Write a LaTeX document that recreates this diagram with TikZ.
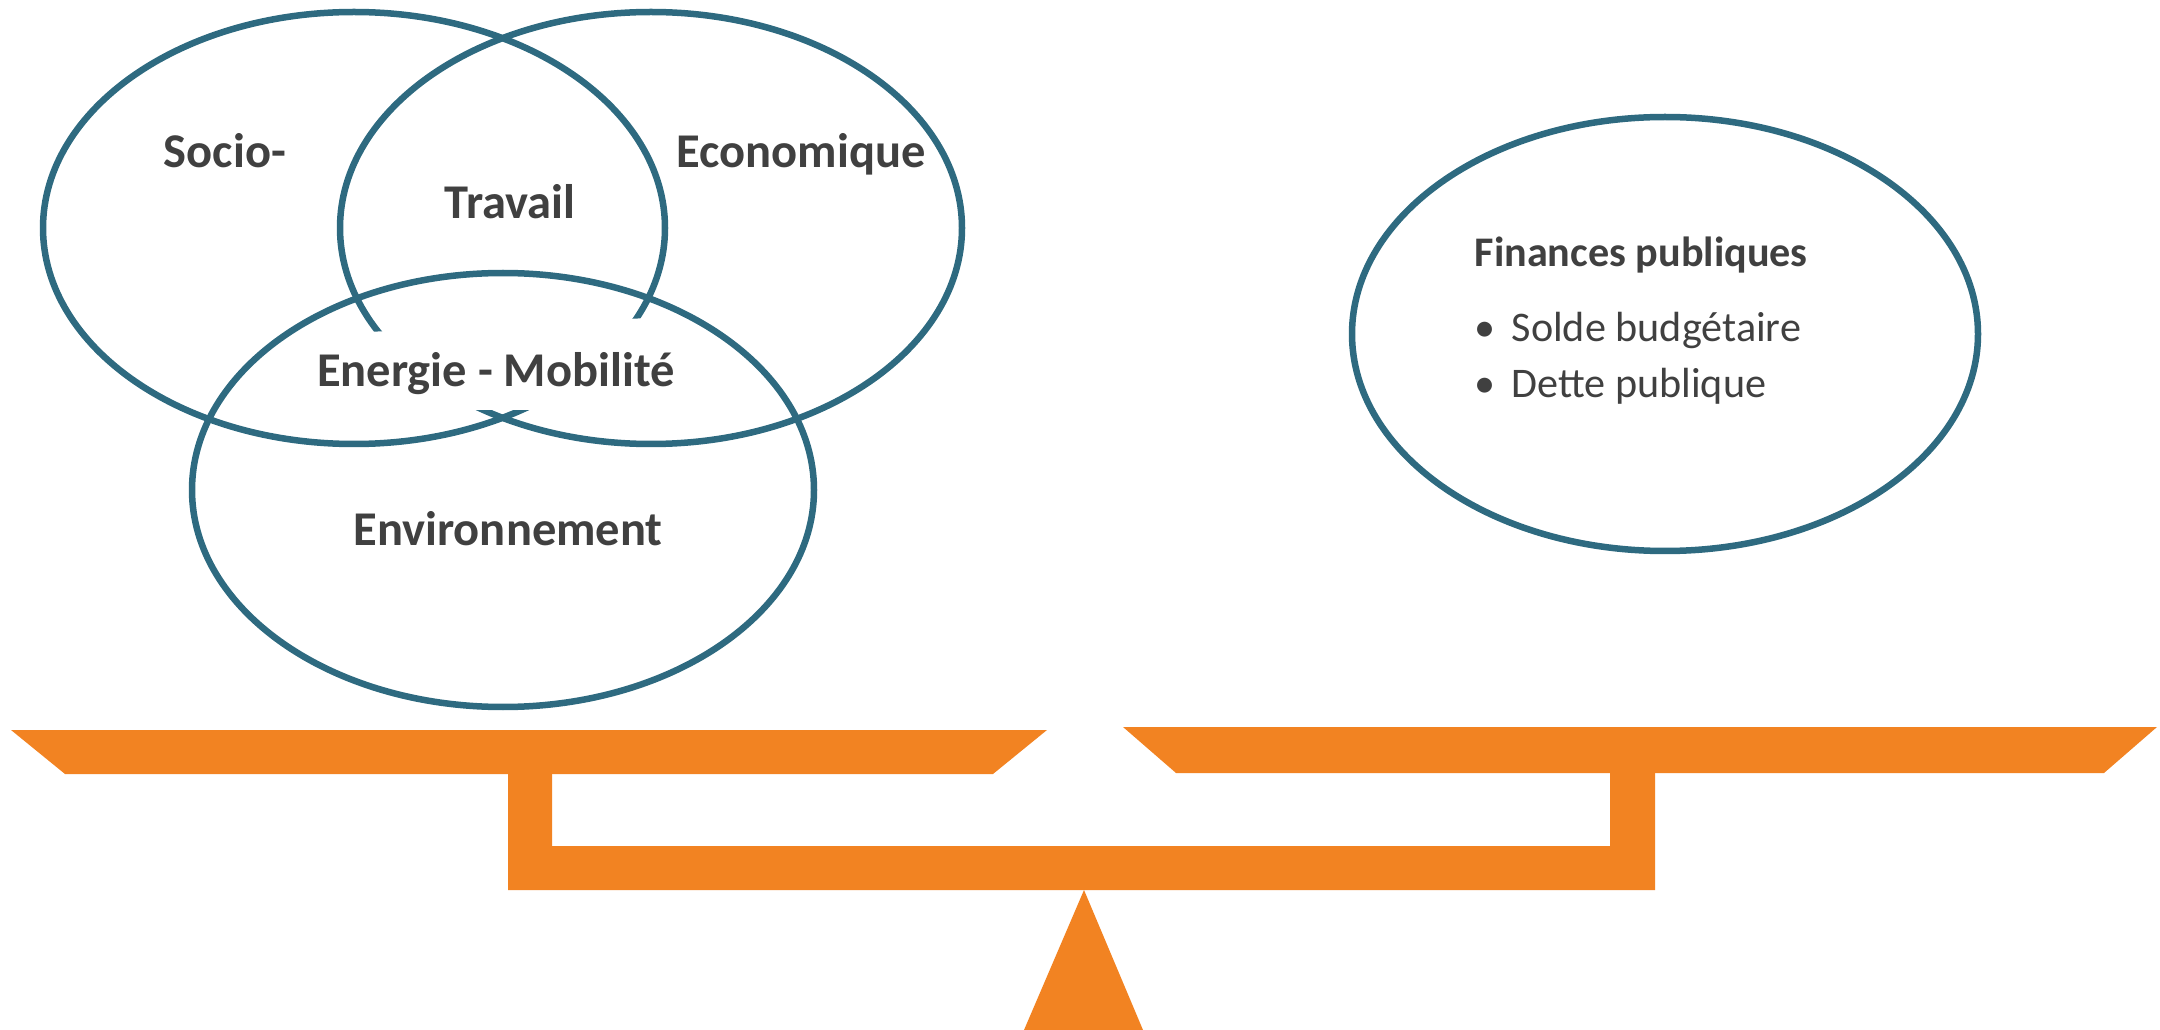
\documentclass[tikz,border=0pt]{standalone}
\usepackage{fontspec}
\setmainfont{Carlito}
\definecolor{teal}{HTML}{2E6A80}
\definecolor{scaleorange}{HTML}{F28322}
\definecolor{txt}{HTML}{404040}
\tikzset{
  venn/.style={draw=teal, line width=1.85pt},
  lbl/.style={text=txt, font=\fontsize{13.8}{16}\selectfont\bfseries, inner sep=0pt, anchor=base},
  fin/.style={text=txt, font=\fontsize{12}{14}\selectfont, inner sep=0pt, anchor=base west},
  part/.style={fill=scaleorange, draw=none}
}
\begin{document}
\begin{tikzpicture}[x=0.1mm, y=-0.1mm]
\useasboundingbox (0,0) rectangle (2160,1030);
% Venn ellipses
\draw[venn] (354,228) ellipse [x radius=31.1mm, y radius=21.6mm];
\draw[venn] (651,228) ellipse [x radius=31.1mm, y radius=21.6mm];
\fill[white] (368,332) -- (648,318) -- (648,410) -- (368,410) -- cycle;
\draw[venn] (503,490) ellipse [x radius=31.1mm, y radius=21.7mm];
% labels
\node[lbl] (socio) at (225,168) {Socio-};
\node[lbl] (eco) at (801,168) {Economique};
\node[lbl] (travail) at (510,219) {Travail};
\node[lbl] (energie) at (496,387) {Energie - Mobilité};
\node[lbl] (env) at (508,546) {Environnement};
% finances
\draw[venn] (1665,334) ellipse [x radius=31.3mm, y radius=21.7mm];
\node[fin, font=\fontsize{12}{14}\selectfont\bfseries] (fintitle) at (1474,267) {Finances publiques};
\node[fin] (b1) at (1474,342) {•};
\node[fin] (solde) at (1511,342) {Solde budgétaire};
\node[fin] (b2) at (1474,398) {•};
\node[fin] (dette) at (1511,398) {Dette publique};
% scale
\path[part] (11,730) -- (1047,730) -- (993,774) -- (65,774) -- cycle;
\path[part] (1123,727) -- (2157,727) -- (2104,773) -- (1176,773) -- cycle;
\path[part] (508,772) -- (552,772) -- (552,846) -- (1610,846) -- (1610,772) -- (1655,772) -- (1655,890) -- (508,890) -- cycle;
\path[part] (1084,890) -- (1143,1030) -- (1024,1030) -- cycle;
\end{tikzpicture}
\end{document}
